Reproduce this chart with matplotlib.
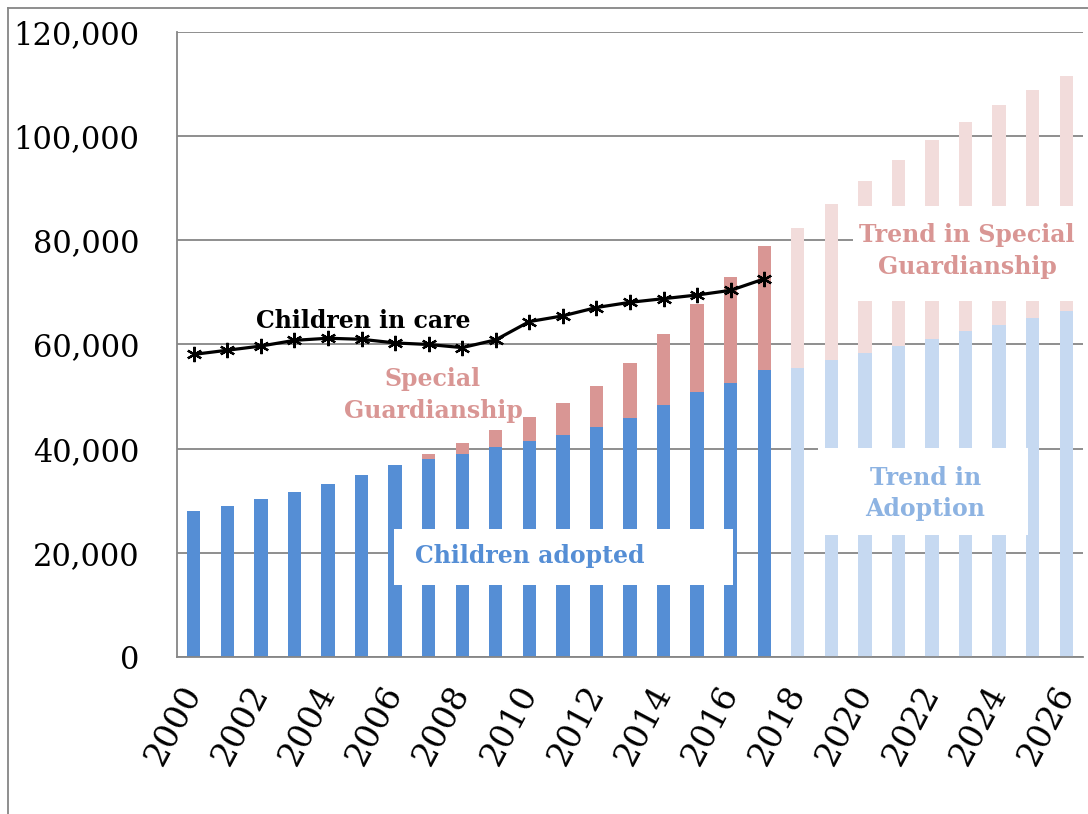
import numpy as np
import matplotlib
matplotlib.use("Agg")
import matplotlib.pyplot as plt
from matplotlib.patches import Rectangle
from matplotlib.lines import Line2D

# actual years
years = list(range(2000, 2018))
adopted = [28000, 29000, 30300, 31700, 33300, 35000, 36800, 38000, 39000,
           40400, 41500, 42700, 44100, 45800, 48300, 50900, 52600, 55100]
adopt_plus_sgo = [28000, 29000, 30300, 31700, 33300, 35000, 36800, 38900, 41000,
                  43500, 46000, 48700, 52100, 56400, 62000, 67800, 73000, 79000]
in_care = [58100, 58900, 59700, 60800, 61200, 61000, 60300, 60000, 59400,
           60900, 64400, 65500, 67100, 68100, 68800, 69500, 70400, 72600]

# projected years
trend_years = list(range(2018, 2027))
trend_adopted = [55400, 57000, 58400, 59800, 61100, 62500, 63800, 65100, 66400]
trend_total = [82400, 86900, 91300, 95400, 99200, 102800, 106000, 108900, 111500]

sgo = [t - a for t, a in zip(adopt_plus_sgo, adopted)]
trend_sgo = [t - a for t, a in zip(trend_total, trend_adopted)]

plt.rcParams['font.family'] = ['DejaVu Serif']

fig = plt.figure(figsize=(10.88, 8.14), dpi=100)
ax = fig.add_axes([177/1088, 1 - 657/814, (1083 - 177)/1088, (657 - 32)/814])

w = 0.4
ax.bar(years, adopted, width=w, color='#558ED5', zorder=2)
ax.bar(years, sgo, width=w, bottom=adopted, color='#D99694', zorder=2)
ax.bar(trend_years, trend_adopted, width=w, color='#C6D9F1', zorder=2)
ax.bar(trend_years, trend_sgo, width=w, bottom=trend_adopted, color='#F2DCDB', zorder=2)

ax.plot(years, in_care, color='black', lw=2.3, marker=(6, 2, 0), ms=11, mew=1.6, zorder=4)

# white label boxes
ax.add_patch(Rectangle((2005.96, 13800), 10.1, 10800, facecolor='white', edgecolor='none', zorder=3))
ax.add_patch(Rectangle((2018.6, 23500), 6.27, 16700, facecolor='white', edgecolor='none', zorder=3))
ax.add_patch(Rectangle((2019.65, 68400), 7.0, 18100, facecolor='white', edgecolor='none', zorder=3))

ax.text(2010.0, 19400, 'Children adopted', color='#558ED5', fontsize=17, fontweight='bold',
        ha='center', va='center', zorder=5)
ax.text(2021.8, 31400, 'Trend in\nAdoption', color='#8DB3E2', fontsize=17, fontweight='bold',
        ha='center', va='center', linespacing=1.4, zorder=5)
ax.text(2023.05, 77900, 'Trend in Special\nGuardianship', color='#D99694', fontsize=17,
        fontweight='bold', ha='center', va='center', linespacing=1.4, zorder=5)
ax.text(2007.13, 50300, 'Special\nGuardianship', color='#D99694', fontsize=17, fontweight='bold',
        ha='center', va='center', linespacing=1.4, zorder=5)
ax.text(2005.04, 64500, 'Children in care', color='black', fontsize=17, fontweight='bold',
        ha='center', va='center', zorder=5)

ax.set_xlim(1999.5, 2026.5)
ax.set_ylim(0, 120000)
ax.set_yticks(range(0, 120001, 20000))
ax.set_yticklabels([f'{v:,}' for v in range(0, 120001, 20000)], fontsize=22)
ax.set_xticks(range(2000, 2027, 2))
ax.set_xticklabels([str(y) for y in range(2000, 2027, 2)], fontsize=24, rotation=62,
                   ha='right', va='center', rotation_mode='anchor')
ax.tick_params(length=0)
ax.tick_params(axis='y', pad=27)
ax.tick_params(axis='x', pad=22)

ax.grid(axis='y', color='#868686', lw=1.3, zorder=0)
ax.set_axisbelow(True)
for s in ['top', 'right']:
    ax.spines[s].set_visible(False)
for s in ['left', 'bottom']:
    ax.spines[s].set_color('#868686')
    ax.spines[s].set_linewidth(1.3)

# outer frame (left and top only visible)
fig.add_artist(Line2D([8/1088, 8/1088], [0, 1 - 8/814], color='#868686', lw=1.3))
fig.add_artist(Line2D([8/1088, 1], [1 - 8/814, 1 - 8/814], color='#868686', lw=1.3))

fig.savefig('out.png', dpi=100)
